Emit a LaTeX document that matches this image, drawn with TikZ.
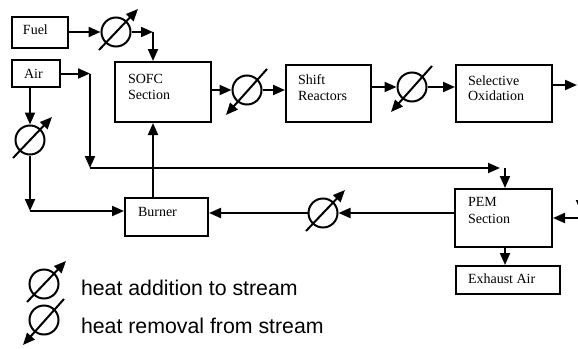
\documentclass[tikz,border=0pt]{standalone}
\usepackage{fontspec}
\setmainfont{Liberation Serif}
\newfontfamily\legendfont{Liberation Sans}
\usetikzlibrary{arrows.meta}
\begin{document}
\begin{tikzpicture}[x=1pt,y=-1pt,
  line width=2pt,
  box/.style={draw, rectangle, line width=2pt, inner sep=0pt},
  txt/.style={font=\fontsize{14}{16}\selectfont, inner sep=0pt, anchor=base west},
  legtxt/.style={font=\legendfont\fontsize{21.3}{24}\selectfont, inner sep=0pt, anchor=base west},
  flow/.style={-{Triangle[length=12pt,width=10pt]}},
  hxs/.style={draw, circle, minimum size=29pt, inner sep=0pt, line width=2pt}]
\useasboundingbox (0,0) rectangle (578,348);
\fill[white] (0,0) rectangle (578,348);
\clip (0,0) rectangle (578,348);

% process blocks
\node[box, minimum width=56pt, minimum height=31pt] (fuel) at (40,32.5) {};
\node[box, minimum width=48pt, minimum height=27pt] (air) at (36,73.5) {};
\node[box, minimum width=96pt, minimum height=60pt] (sofc) at (163,92) {};
\node[box, minimum width=85pt, minimum height=57pt] (shift) at (328.5,93.5) {};
\node[box, minimum width=96pt, minimum height=57pt] (selox) at (504,93.5) {};
\node[box, minimum width=83pt, minimum height=38pt] (burner) at (166.5,217) {};
\node[box, minimum width=97pt, minimum height=58pt] (pem) at (503.5,218) {};
\node[box, minimum width=104pt, minimum height=28pt] (exhaust) at (508,280) {};

% block labels
\node[txt] (fuel-t) at (22,34) {Fuel};
\node[txt] (air-t) at (23,78) {Air};
\node[txt] (sofc-t1) at (127,83.5) {SOFC};
\node[txt] (sofc-t2) at (127,99.5) {Section};
\node[txt] (shift-t1) at (297,84) {Shift};
\node[txt] (shift-t2) at (297,100) {Reactors};
\node[txt] (selox-t1) at (467,85) {Selective};
\node[txt] (selox-t2) at (467,100) {Oxidation};
\node[txt] (burner-t) at (137,216) {Burner};
\node[txt] (pem-t1) at (467,206) {PEM};
\node[txt] (pem-t2) at (467,223) {Section};
\node[txt] (exhaust-t) at (467,283) {Exhaust Air};

% heat exchangers
\node[hxs] (hxF) at (116,32) {};
\node[hxs] (hx1) at (247,90) {};
\node[hxs] (hx2) at (412,87) {};
\node[hxs] (hxA) at (30,140) {};
\node[hxs] (hxP) at (323,213) {};
\node[hxs] (hxL1) at (44,284) {};
\node[hxs] (hxL2) at (44,320) {};

% heat addition (arrow up-right) and removal (arrow down-left)
\foreach \h in {hxF,hxA,hxP,hxL1}
  \draw[flow] ([shift={(-17,18)}]\h.center) -- ([shift={(22,-23)}]\h.center);
\foreach \h in {hx1,hx2,hxL2}
  \draw[flow] ([shift={(20,-21)}]\h.center) -- ([shift={(-21,25)}]\h.center);

% routing points
\coordinate (f1) at (153,32);
\coordinate (a1) at (90,73.5);
\coordinate (a2) at (90,168);
\coordinate (a3) at (500,168);
\coordinate (a4) at (505,168);
\coordinate (b1) at (30,211);
\coordinate (bu) at (153,0);
\coordinate (out) at (577,85);
\coordinate (r1) at (581,190);
\coordinate (r2) at (581,212);
\coordinate (r3) at (581,218);

% fuel line
\draw[flow] (fuel.east |- hxF) -- (hxF.west);
\draw[flow] (hxF.east) -- (f1);
\draw[flow] (f1) -- (f1 |- sofc.north);

% reformate train
\draw[flow] (sofc.east |- hx1) -- (hx1.west);
\draw[flow] (hx1.east) -- (hx1 -| shift.west);
\draw[flow] (shift.east |- hx2) -- (hx2.west);
\draw[flow] (hx2.east) -- (hx2 -| selox.west);
\draw[flow] (selox.east |- out) -- (out);

% air lines
\draw[flow] (air.east) -- (a1);
\draw[flow] (a1) -- (a2);
\draw[flow] (a2) -- (a3);
\draw[flow] (a4) -- (a4 |- pem.north);
\draw[flow] (air.south -| hxA) -- (hxA.north);
\draw[flow] (hxA.south) -- (b1);
\draw[flow] (b1) -- (b1 -| burner.west);

% burner and PEM loop
\draw[flow] (bu |- burner.north) -- (bu |- sofc.south);
\draw[flow] (pem.west |- hxP) -- (hxP.east);
\draw[flow] (hxP.west) -- (hxP -| burner.east);
\draw[flow] (r1) -- (r2);
\draw[flow] (r3) -- (pem.east);
\draw[flow] (a4 |- pem.south) -- (a4 |- exhaust.north);

% legend
\node[legtxt] (leg1) at (80,295) {heat addition to stream};
\node[legtxt] (leg2) at (80,333) {heat removal from stream};
\end{tikzpicture}
\end{document}
